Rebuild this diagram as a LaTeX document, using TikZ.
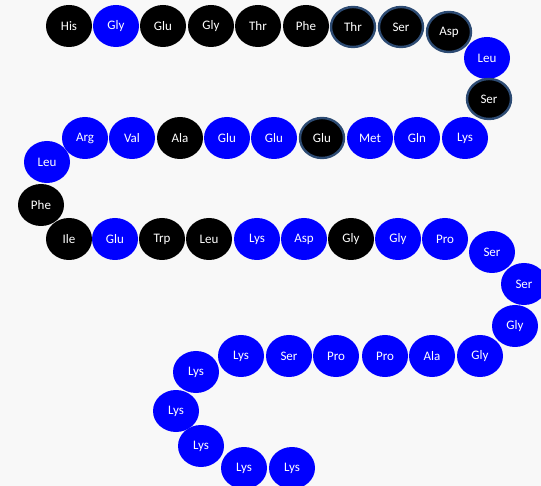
\documentclass[tikz,border=0pt]{standalone}
\usepackage{fontspec}
\setsansfont{Carlito}
\definecolor{ResBlue}{RGB}{0,0,255}
\definecolor{RimBlue}{RGB}{45,75,115}
\definecolor{PageGrey}{RGB}{248,248,248}
\usetikzlibrary{shapes.geometric}

\tikzset{
  res/.style={ellipse, minimum width=46pt, minimum height=42pt, inner sep=0pt,
              text=white, font=\sffamily\fontsize{13}{15}\selectfont},
  resblk/.style={res, fill=black},
  resblu/.style={res, fill=ResBlue},
  resrim/.style={res, fill=black, draw=RimBlue, line width=2.4pt,
                 minimum width=44pt, minimum height=40pt}
}

\begin{document}
\begin{tikzpicture}[x=1pt, y=-1pt]
  \fill[PageGrey] (0,0) rectangle (541,486);
  \useasboundingbox (0,0) rectangle (541,486);

  % first strand
  \node[resblk] (r1)  at (69,26)  {His};
  \node[resblu] (r2)  at (116,26) {Gly};
  \node[resblk] (r3)  at (163,26) {Glu};
  \node[resblk] (r4)  at (211,26) {Gly};
  \node[resblk] (r5)  at (258,26) {Thr};
  \node[resblk] (r6)  at (306,26) {Phe};
  \node[resrim] (r7)  at (353,27) {Thr};
  \node[resrim] (r8)  at (401,27) {Ser};
  \node[resrim] (r9)  at (449,32) {Asp};
  \node[resblu] (r10) at (487,58) {Leu};
  \node[resrim] (r11) at (489,99) {Ser};

  % second strand, right to left
  \node[resblu] (r12) at (465,138) {Lys};
  \node[resblu] (r13) at (417,138) {Gln};
  \node[resblu] (r14) at (370,138) {Met};
  \node[resrim] (r15) at (322,138) {Glu};
  \node[resblu] (r16) at (274,138) {Glu};
  \node[resblu] (r17) at (227,138) {Glu};
  \node[resblk] (r18) at (180,138) {Ala};
  \node[resblu] (r19) at (132,138) {Val};
  \node[resblu] (r20) at (85,138)  {Arg};
  \node[resblu] (r21) at (47,162)  {Leu};
  \node[resblk] (r22) at (41,205)  {Phe};

  % third strand
  \node[resblk] (r23) at (69,239)  {Ile};
  \node[resblu] (r24) at (115,239) {Glu};
  \node[resblk] (r25) at (162,239) {Trp};
  \node[resblk] (r26) at (209,239) {Leu};
  \node[resblu] (r27) at (257,239) {Lys};
  \node[resblu] (r28) at (304,239) {Asp};
  \node[resblk] (r29) at (351,239) {Gly};
  \node[resblu] (r30) at (398,239) {Gly};
  \node[resblu] (r31) at (445,239) {Pro};
  \node[resblu] (r32) at (492,252) {Ser};
  \node[resblu] (r33) at (524,284) {Ser};
  \node[resblu] (r34) at (515,326) {Gly};

  % fourth strand and tail
  \node[resblu] (r35) at (480,356) {Gly};
  \node[resblu] (r36) at (432,356) {Ala};
  \node[resblu] (r37) at (385,356) {Pro};
  \node[resblu] (r38) at (336,356) {Pro};
  \node[resblu] (r39) at (289,356) {Ser};
  \node[resblu] (r40) at (241,356) {Lys};
  \node[resblu] (r41) at (196,372) {Lys};
  \node[resblu] (r42) at (176,411) {Lys};
  \node[resblu] (r43) at (201,446) {Lys};
  \node[resblu] (r44) at (244,468) {Lys};
  \node[resblu] (r45) at (292,468) {Lys};
\end{tikzpicture}
\end{document}
